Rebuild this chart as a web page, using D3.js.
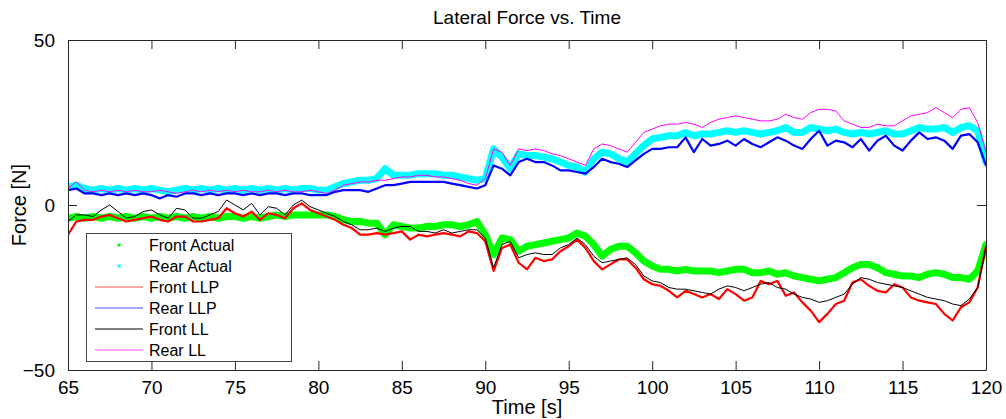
<!DOCTYPE html>
<html>
<head>
<meta charset="utf-8">
<script src="https://cdn.jsdelivr.net/npm/d3@7"></script>
<style>
  body { margin: 0; background: #fff; }
  svg { display: block; font-family: "Liberation Sans", Arial, sans-serif; }
</style>
</head>
<body>
<svg id="chart" width="1006" height="419"></svg>
<script>
const times = d3.range(0, 111).map(i => 65 + i * 0.5);

const frontActual = [
  -4,-3.5,-4,-3.5,-4,-3.5,-4,-3.5,-4,-3.5,
  -4,-3.5,-4,-3.5,-4,-3.5,-4,-3.5,-4,-3.5,
  -3.5,-4,-3.5,-4,-3.5,-3,-3.5,-3,-3,-3,
  -3,-3,-3.5,-4.5,-5,-5,-5.5,-5.5,-9,-6,
  -6.5,-7,-7,-6.5,-6.5,-6,-6,-6.5,-6,-5,
  -9,-15,-10,-10.5,-14,-12.5,-12,-11.5,-11,-10.5,
  -10,-8.5,-9.5,-12,-15.5,-13.5,-12.5,-12.5,-14.5,-17,
  -18.5,-19.5,-19.5,-20,-19.5,-20,-20,-20,-20.5,-20,
  -19.5,-19.5,-20.5,-20.5,-20,-21,-20.5,-21.5,-22,-22.5,
  -23,-22.5,-22,-20.5,-19,-18,-18,-19,-20.5,-21,
  -21.5,-21.5,-22,-21,-20.5,-21,-22,-22,-22.5,-20,
  -12
];
const rearActual = [
  5.5,6,5,4.5,5,4.5,5,4.5,5,4.5,
  5,4.5,4,4.5,5,4.5,5,4.5,5,4.5,
  5,4.5,5,4.5,5,4.5,5,4.5,5,5,
  4.5,4.5,5.5,6.5,7,7.5,7.5,8,11,9,
  9,9,9.5,9.5,9.5,9,9,8.5,8,7.5,
  8,17,14.5,11,15.5,15,15,14.5,14,13,
  12,11.5,10,14,16,15.5,14,13,15.5,18,
  20,20.5,21,21,22,21,21.5,21.5,22,22.5,
  22,22.5,22,21.5,22,22.5,23.5,22,22,23.5,
  23,22.5,23,22,21.5,22,21.5,22,22.5,21.5,
  21.5,22.5,23.5,23,23,23.5,22,23.5,24,22.5,
  13
];
const frontLLP = [
  -9,-5,-4.5,-4.5,-3.5,-3,-4,-5,-4.5,-4,
  -3.5,-4.5,-5,-3.5,-3.5,-5,-5,-4.5,-4,-1,
  -2.5,-3.5,-2,-4.5,-2.5,-3,-4,-1,0.5,-1.5,
  -2.5,-3.5,-4.5,-6,-7,-9,-9,-8.5,-9,-8.5,
  -8,-10.5,-9,-9.5,-9,-8.5,-9,-9.5,-8,-8.5,
  -11,-20,-13,-12,-17.5,-19.5,-16,-17,-16.5,-14,
  -12.5,-10.5,-13,-17,-19.5,-18,-16.5,-16.5,-19,-22.5,
  -24,-24.5,-26,-28,-26,-27,-28,-27,-28.5,-25.5,
  -27,-29,-28,-23,-24,-23,-27.5,-26.5,-29.5,-32,
  -35.5,-33,-30,-29,-23.5,-22.5,-24.5,-26,-26.5,-24,
  -25,-28,-29,-29.5,-30,-33,-35,-31,-29.5,-25,
  -12.5
];
const rearLLP = [
  4.5,5,3.5,3.5,3,3.5,3,3.5,3,3.5,
  3,2,3,2.5,3.5,3.5,3,3.5,3,3.5,
  3.5,3,3.5,3,3.5,3.5,3,3.5,3.5,3,
  3,3,4,4.5,4.5,4.5,4,5,6,6,
  6.5,7,7,7,7,7,6.5,6,5.5,5,
  6,12,11,9,13,14,13,13,12,10.5,
  10.5,10,9.5,11.5,14,13,12.5,11.5,13.5,15.5,
  17,17,17.5,17.5,20.5,16,20,18,18.5,19.5,
  18,20,18.5,17.5,19,20.5,19.5,18,17,20,
  22.5,18,19.5,19,17.5,20,16.5,19.5,21,18,
  16.5,19.5,22,20,20.5,19.5,17,21,21.5,19,
  12
];
const frontLL = [
  -5,-3,-3,-3.5,-1.5,0,-2,-4,-3.5,-2,
  -1.5,-3,-4,-1,-1.5,-4,-4,-3,-2,1.5,
  0,-1.5,0.5,-3,-0.5,-1,-3,0,1.5,-0.5,
  -1.5,-2.5,-3.5,-5,-6,-7.5,-7.5,-7,-8,-7,
  -6.5,-6.5,-8,-8,-8.5,-7.5,-8.5,-8,-7.5,-7.5,
  -10,-19,-12,-11,-16,-15,-14.5,-15,-15,-13,
  -12,-10,-12,-15.5,-17.5,-17,-16.5,-16,-18,-21.5,
  -23,-23.5,-25,-25.5,-25.5,-26,-26.5,-27,-25.5,-24.5,
  -25,-26,-25,-24,-23.5,-25,-25.5,-27,-28,-28.5,
  -29.5,-29,-28,-27,-24,-22,-22.5,-23.5,-24,-24.5,
  -25,-26,-27,-28,-28.5,-29,-30,-30.5,-28.5,-25,
  -13
];
const rearLL = [
  5,7,4.5,4,4.5,4,4.5,4,4.5,4,
  4,4.5,4,3.5,4,4.5,4,4.5,4,4.5,
  4,4.5,4,4,4.5,4,4.5,4,4,4.5,
  4,3.5,4.5,6,6.5,7,7,7.5,7.5,8,
  8.5,8.5,9,9,8.5,8.5,8,7.5,6.5,6,
  8,17,16,12,17,16.5,17,16.5,15.5,15,
  14,13,12,17,18.5,18,17,16,19,22,
  23,24,24.5,24.5,25,24.5,23.5,25,26,26.5,
  27,26.5,26,25.5,25.5,26,27.5,26.5,26,28,
  29,29,28.5,25.5,24.5,23.5,23.5,24.5,24,24,
  25.5,27,27.5,28,29.5,28,26.5,29,29.5,25,
  16
];

const xTicks = [65, 70, 75, 80, 85, 90, 95, 100, 105, 110, 115, 120];
const yTicks = [-50, 0, 50];

const seriesNames = ["Front Actual", "Rear Actual", "Front LLP", "Rear LLP", "Front LL", "Rear LL"];
const seriesData = [frontActual, rearActual, frontLLP, rearLLP, frontLL, rearLL];
const seriesColors = ["#00ff00", "#00ffff", "#ff0000", "#0000ff", "#000000", "#ff00ff"];

// ---- Drawing ----
const svg = d3.select("#chart");
const margin = { left: 68, right: 1006 - 986, top: 40, bottom: 419 - 370 };
const W = 1006, H = 419;

const x = d3.scaleLinear().domain([65, 120]).range([margin.left, W - margin.right]);
const y = d3.scaleLinear().domain([-50, 50]).range([H - margin.bottom, margin.top]);

const axisColor = "#262626";

svg.append("defs").append("clipPath").attr("id", "clip")
  .append("rect").attr("x", x(65)).attr("y", y(50))
  .attr("width", x(120) - x(65)).attr("height", y(-50) - y(50));

const line = d3.line().x((d, i) => x(times[i])).y(d => y(d));

const plot = svg.append("g").attr("clip-path", "url(#clip)");
const widths = [7, 7, 2.2, 2.2, 1, 1];
seriesData.forEach((vals, k) => {
  plot.append("path")
    .datum(vals)
    .attr("fill", "none")
    .attr("stroke", seriesColors[k])
    .attr("stroke-width", widths[k])
    .attr("stroke-linejoin", "round")
    .attr("stroke-linecap", "round")
    .attr("d", line);
});

// axes box
const tickLen = 9;
const xAxisB = d3.axisBottom(x).tickValues(xTicks).tickSizeInner(-tickLen).tickSizeOuter(0).tickPadding(11);
const xAxisT = d3.axisTop(x).tickValues(xTicks).tickSizeInner(-tickLen).tickSizeOuter(0).tickFormat("");
const yAxisL = d3.axisLeft(y).tickValues(yTicks).tickSizeInner(-tickLen).tickSizeOuter(0).tickPadding(13);
const yAxisR = d3.axisRight(y).tickValues(yTicks).tickSizeInner(-tickLen).tickSizeOuter(0).tickFormat("");

function styleAxis(g) {
  g.select(".domain").attr("stroke", axisColor);
  g.selectAll(".tick line").attr("stroke", axisColor);
  g.selectAll(".tick text").attr("fill", "#000").style("font-size", "19px")
    .style("font-family", '"Liberation Sans", Arial, sans-serif');
}
svg.append("g").attr("transform", `translate(0,${y(-50)})`).call(xAxisB).call(styleAxis);
svg.append("g").attr("transform", `translate(0,${y(50)})`).call(xAxisT).call(styleAxis);
svg.append("g").attr("transform", `translate(${x(65)},0)`).call(yAxisL).call(styleAxis);
svg.append("g").attr("transform", `translate(${x(120)},0)`).call(yAxisR).call(styleAxis);

// Title & labels
svg.append("text").attr("x", (x(65) + x(120)) / 2).attr("y", 24)
  .attr("text-anchor", "middle").style("font-size", "19px").text("Lateral Force vs. Time");
svg.append("text").attr("x", (x(65) + x(120)) / 2).attr("y", 414)
  .attr("text-anchor", "middle").style("font-size", "20px").text("Time [s]");
svg.append("text").attr("transform", `translate(26,${(y(50) + y(-50)) / 2}) rotate(-90)`)
  .attr("text-anchor", "middle").style("font-size", "20px").text("Force [N]");

// Legend
const lg = svg.append("g");
lg.append("rect").attr("x", 86.5).attr("y", 233.5).attr("width", 205).attr("height", 128)
  .attr("fill", "#fff").attr("stroke", "#444").attr("stroke-width", 1);
const rowY0 = 245, rowDY = 21;
seriesNames.forEach((name, k) => {
  const ry = rowY0 + k * rowDY;
  if (k < 2) {
    lg.append("rect").attr("x", 117.5).attr("y", ry - 1.5).attr("width", 3).attr("height", 3)
      .attr("fill", seriesColors[k]);
  } else {
    lg.append("line").attr("x1", 95).attr("x2", 143).attr("y1", ry).attr("y2", ry)
      .attr("stroke", seriesColors[k]).attr("stroke-width", 1).attr("stroke-opacity", k === 4 ? 1 : 0.7);
  }
  lg.append("text").attr("x", 149).attr("y", ry + 6).style("font-size", "16px").text(name);
});
</script>
</body>
</html>
